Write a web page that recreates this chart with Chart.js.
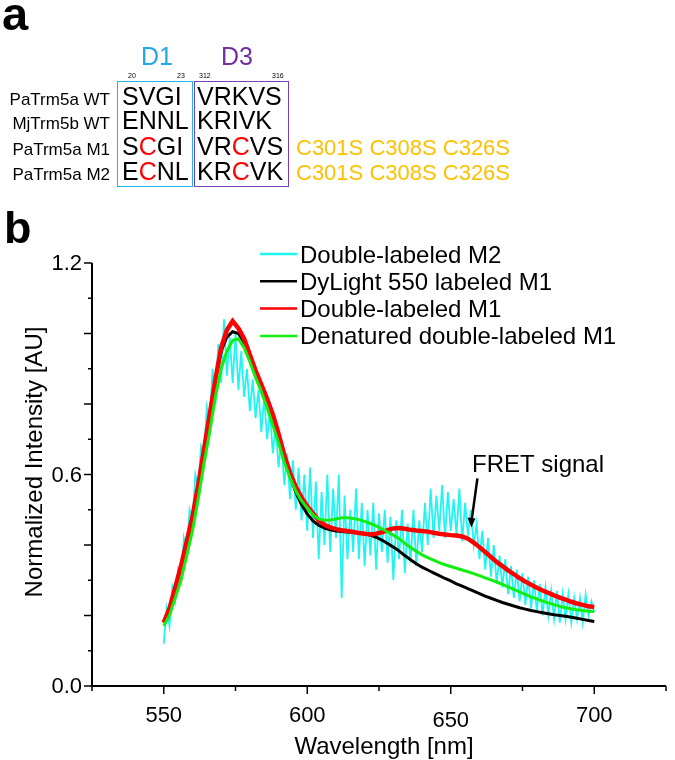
<!DOCTYPE html>
<html>
<head>
<meta charset="utf-8">
<script src="https://cdn.jsdelivr.net/npm/chart.js@4.4.1/dist/chart.umd.min.js"></script>
<style>
  html, body { margin: 0; padding: 0; background: #fff; }
  #wrap { position: relative; width: 675px; height: 760px; overflow: hidden; font-family: "Liberation Sans", Arial, sans-serif; }
  #wrap canvas { position: absolute; left: 0; top: 0; }
  .t { position: absolute; white-space: nowrap; line-height: 1; }
  .box { position: absolute; box-sizing: border-box; }
  .r { color: #ff0000; }
</style>
</head>
<body>
<div id="wrap">
  <canvas id="spectra" width="675" height="760"></canvas>

  <!-- panel a -->
  <div class="t" style="left:2px; top:-10px; font-size:47px; font-weight:bold;">a</div>
  <div class="t" style="left:141px; top:44px; font-size:25px; color:#22a8e8;">D1</div>
  <div class="t" style="left:221px; top:44px; font-size:25px; color:#7030a0;">D3</div>
  <div class="t" style="left:128px; top:72px; font-size:7px;">20</div>
  <div class="t" style="left:177px; top:72px; font-size:7px;">23</div>
  <div class="t" style="left:199px; top:72px; font-size:7px;">312</div>
  <div class="t" style="left:272px; top:72px; font-size:7px;">316</div>
  <div class="box" style="left:117px; top:81px; width:76px; height:106px; border:1.5px solid #22b4ee;"></div>
  <div class="box" style="left:194px; top:81px; width:95px; height:106px; border:1.5px solid #7e3fb5;"></div>

  <div class="t" style="right:565px; top:91px; font-size:17px;">PaTrm5a WT</div>
  <div class="t" style="right:565px; top:115px; font-size:17px;">MjTrm5b WT</div>
  <div class="t" style="right:565px; top:141px; font-size:17px;">PaTrm5a M1</div>
  <div class="t" style="right:565px; top:166px; font-size:17px;">PaTrm5a M2</div>

  <div class="t" style="left:122px; top:84px; font-size:25px;">SVGI</div>
  <div class="t" style="left:122px; top:108px; font-size:25px;">ENNL</div>
  <div class="t" style="left:122px; top:134px; font-size:25px;">S<span class="r">C</span>GI</div>
  <div class="t" style="left:122px; top:159px; font-size:25px;">E<span class="r">C</span>NL</div>
  <div class="t" style="left:197px; top:84px; font-size:25px;">VRKVS</div>
  <div class="t" style="left:197px; top:108px; font-size:25px;">KRIVK</div>
  <div class="t" style="left:197px; top:134px; font-size:25px;">VR<span class="r">C</span>VS</div>
  <div class="t" style="left:197px; top:159px; font-size:25px;">KR<span class="r">C</span>VK</div>

  <div class="t" style="left:296px; top:137px; font-size:22px; color:#ffc000;">C301S C308S C326S</div>
  <div class="t" style="left:296px; top:162px; font-size:22px; color:#ffc000;">C301S C308S C326S</div>

  <!-- panel b -->
  <div class="t" style="left:4px; top:205px; font-size:45px; font-weight:bold;">b</div>
</div>

<script>
// wavelength grids (nm)
const startNm = 550;
const stepFine = 1;   // cyan trace
const stepCoarse = 2; // smoother traces

const seriesLabels = [
  "Double-labeled M2",
  "DyLight 550 labeled M1",
  "Double-labeled M1",
  "Denatured double-labeled M1",
];
const seriesColors = ["#22f4f4", "#000000", "#ff0000", "#12ee12"];

const xTickLabels = [550, 600, 650, 700];
const yTickLabels = [0, 0.6, 1.2];

// Double-labeled M2, 550..700 nm every 1 nm (noisy)
const cyanM2 = [
  0.12, 0.22, 0.17, 0.28, 0.24, 0.33, 0.30, 0.42, 0.38, 0.50,
  0.47, 0.60, 0.56, 0.68, 0.66, 0.79, 0.74, 0.90, 0.80, 0.97,
  0.86, 1.04, 0.88, 0.99, 0.86, 1.00, 0.84, 0.95, 0.82, 0.90,
  0.78, 0.87, 0.76, 0.84, 0.72, 0.82, 0.70, 0.78, 0.66, 0.74,
  0.62, 0.70, 0.57, 0.66, 0.53, 0.64, 0.50, 0.62, 0.47, 0.60,
  0.44, 0.62, 0.42, 0.58, 0.36, 0.55, 0.40, 0.60, 0.38, 0.56,
  0.42, 0.60, 0.25, 0.54, 0.36, 0.50, 0.38, 0.56, 0.36, 0.52,
  0.34, 0.50, 0.37, 0.52, 0.33, 0.49, 0.38, 0.50, 0.35, 0.48,
  0.30, 0.47, 0.36, 0.50, 0.32, 0.46, 0.35, 0.50, 0.34, 0.47,
  0.38, 0.52, 0.40, 0.56, 0.42, 0.54, 0.44, 0.57, 0.42, 0.55,
  0.44, 0.53, 0.43, 0.56, 0.41, 0.52, 0.43, 0.50, 0.40, 0.46,
  0.36, 0.44, 0.33, 0.42, 0.31, 0.40, 0.29, 0.37, 0.28, 0.36,
  0.26, 0.34, 0.25, 0.33, 0.24, 0.32, 0.23, 0.31, 0.22, 0.30,
  0.21, 0.29, 0.20, 0.28, 0.20, 0.27, 0.19, 0.27, 0.18, 0.26,
  0.19, 0.26, 0.18, 0.25, 0.19, 0.25, 0.18, 0.26, 0.20, 0.24,
  0.21,
];

// DyLight 550 labeled M1, 550..700 nm every 2 nm
const blackM1 = [
  0.18, 0.22, 0.28, 0.34, 0.41, 0.48, 0.57, 0.67, 0.77, 0.87,
  0.95, 0.99, 1.005, 1.0, 0.975, 0.935, 0.89, 0.85, 0.81, 0.765,
  0.71, 0.65, 0.595, 0.55, 0.515, 0.488, 0.468, 0.456, 0.448, 0.443,
  0.44, 0.438, 0.437, 0.436, 0.434, 0.432, 0.428, 0.422, 0.414, 0.404,
  0.394, 0.383, 0.37, 0.358, 0.347, 0.337, 0.329, 0.321, 0.313, 0.305,
  0.298, 0.29, 0.283, 0.276, 0.269, 0.262, 0.255, 0.249, 0.243, 0.237,
  0.232, 0.227, 0.222, 0.218, 0.214, 0.211, 0.208, 0.205, 0.202, 0.2,
  0.198, 0.195, 0.192, 0.189, 0.186, 0.183,
];

// Double-labeled M1, 550..700 nm every 2 nm
const redM1 = [
  0.18, 0.22, 0.28, 0.34, 0.41, 0.48, 0.57, 0.67, 0.77, 0.87,
  0.96, 1.01, 1.035, 1.015, 0.985, 0.94, 0.895, 0.855, 0.815, 0.77,
  0.715, 0.655, 0.605, 0.565, 0.535, 0.51, 0.49, 0.47, 0.457, 0.45,
  0.445, 0.442, 0.44, 0.437, 0.434, 0.432, 0.43, 0.432, 0.436, 0.442,
  0.447, 0.448, 0.446, 0.443, 0.441, 0.44, 0.438, 0.435, 0.432, 0.43,
  0.428, 0.427, 0.424, 0.418, 0.407, 0.394, 0.38, 0.366, 0.352, 0.34,
  0.328, 0.317, 0.306, 0.296, 0.287, 0.279, 0.271, 0.264, 0.257, 0.251,
  0.245, 0.239, 0.234, 0.23, 0.226, 0.224,
];

// Denatured double-labeled M1, 550..700 nm every 2 nm
const greenM1 = [
  0.17, 0.2, 0.25, 0.3, 0.37, 0.44, 0.53, 0.63, 0.72, 0.82,
  0.9, 0.95, 0.98, 0.985, 0.96, 0.92, 0.875, 0.835, 0.79, 0.74,
  0.69, 0.635, 0.59, 0.553, 0.525, 0.505, 0.485, 0.474, 0.47, 0.471,
  0.474, 0.477, 0.477, 0.475, 0.472, 0.467, 0.461, 0.454, 0.446, 0.437,
  0.428, 0.418, 0.405, 0.393, 0.382, 0.372, 0.364, 0.357, 0.35, 0.344,
  0.339, 0.334, 0.329, 0.324, 0.319, 0.313, 0.307, 0.301, 0.295, 0.288,
  0.281, 0.274, 0.267, 0.26, 0.253, 0.247, 0.241, 0.236, 0.231, 0.226,
  0.222, 0.219, 0.216, 0.214, 0.212, 0.211,
];

function toPoints(values, step) {
  return values.map((v, i) => ({ x: startNm + i * step, y: v }));
}

const FONT = '"Liberation Sans", Arial, sans-serif';

// axes, ticks, labels, legend and the FRET arrow
const decorations = {
  id: "decorations",
  afterDraw(chart) {
    const ctx = chart.ctx;
    const xs = chart.scales.x;
    const ys = chart.scales.y;
    const area = chart.chartArea;
    ctx.save();
    ctx.strokeStyle = "#000";
    ctx.fillStyle = "#000";
    ctx.lineWidth = 2;

    // axis lines
    ctx.beginPath();
    ctx.moveTo(area.left, area.top);
    ctx.lineTo(area.left, area.bottom);
    ctx.lineTo(area.right, area.bottom);
    ctx.stroke();

    // y ticks every 0.1
    ctx.lineWidth = 1.5;
    for (let k = 0; k <= 12; k++) {
      const y = ys.getPixelForValue(k / 10);
      const len = k % 2 === 0 ? 8 : 4;
      ctx.beginPath();
      ctx.moveTo(area.left - len, y);
      ctx.lineTo(area.left, y);
      ctx.stroke();
    }
    // x ticks every 25 nm
    for (let nm = 525; nm <= 725; nm += 25) {
      const x = xs.getPixelForValue(nm);
      const len = nm % 50 === 0 ? 8 : 5;
      ctx.beginPath();
      ctx.moveTo(x, area.bottom);
      ctx.lineTo(x, area.bottom + len);
      ctx.stroke();
    }

    // tick labels
    ctx.font = "22px " + FONT;
    ctx.textAlign = "right";
    ctx.textBaseline = "middle";
    yTickLabels.forEach(v => {
      ctx.fillText(v.toFixed(1), area.left - 10, ys.getPixelForValue(v) + 1);
    });
    ctx.textAlign = "center";
    ctx.textBaseline = "alphabetic";
    xTickLabels.forEach(v => {
      const dy = v === 650 ? 5 : 0;
      ctx.fillText(String(v), xs.getPixelForValue(v), area.bottom + 36 + dy);
    });

    // axis titles
    ctx.font = "24px " + FONT;
    ctx.fillText("Wavelength [nm]", (area.left + area.right) / 2 + 5, area.bottom + 68);
    ctx.save();
    ctx.translate(42, 462);
    ctx.rotate(-Math.PI / 2);
    ctx.fillText("Normalized Intensity [AU]", 0, 0);
    ctx.restore();

    // legend
    ctx.font = "24px " + FONT;
    ctx.textAlign = "left";
    chart.data.datasets.forEach((ds, i) => {
      const y = 254 + i * 27.3;
      ctx.strokeStyle = ds.borderColor;
      ctx.lineWidth = 2.5;
      ctx.beginPath();
      ctx.moveTo(260, y);
      ctx.lineTo(297, y);
      ctx.stroke();
      ctx.fillStyle = "#000";
      ctx.fillText(ds.label, 300, y + 8.5);
    });

    // FRET signal annotation
    ctx.fillText("FRET signal", 472, 472);
    const tipX = xs.getPixelForValue(657.2);
    const tipY = ys.getPixelForValue(0.45);
    ctx.strokeStyle = "#000";
    ctx.lineWidth = 2.5;
    ctx.beginPath();
    ctx.moveTo(tipX + 6, tipY - 49);
    ctx.lineTo(tipX + 2, tipY - 20);
    ctx.lineTo(tipX, tipY - 6);
    ctx.stroke();
    ctx.beginPath();
    ctx.moveTo(tipX - 4, tipY - 10);
    ctx.lineTo(tipX + 4, tipY - 9);
    ctx.lineTo(tipX, tipY);
    ctx.closePath();
    ctx.fill();

    ctx.restore();
  },
};

new Chart(document.getElementById("spectra"), {
  type: "line",
  data: {
    datasets: [
      {
        label: seriesLabels[0],
        data: toPoints(cyanM2, stepFine),
        borderColor: seriesColors[0],
        borderWidth: 1.8,
        order: 4,
      },
      {
        label: seriesLabels[1],
        data: toPoints(blackM1, stepCoarse),
        borderColor: seriesColors[1],
        borderWidth: 3,
        order: 3,
      },
      {
        label: seriesLabels[2],
        data: toPoints(redM1, stepCoarse),
        borderColor: seriesColors[2],
        borderWidth: 4.5,
        order: 2,
      },
      {
        label: seriesLabels[3],
        data: toPoints(greenM1, stepCoarse),
        borderColor: seriesColors[3],
        borderWidth: 3,
        order: 1,
      },
    ],
  },
  options: {
    responsive: false,
    animation: false,
    devicePixelRatio: 1,
    layout: { padding: { left: 92, top: 263, right: 9, bottom: 74 } },
    elements: { point: { radius: 0 }, line: { tension: 0 } },
    scales: {
      x: { type: "linear", min: 525, max: 725, display: false },
      y: { min: 0, max: 1.2, display: false },
    },
    plugins: { legend: { display: false }, tooltip: { enabled: false } },
  },
  plugins: [decorations],
});
</script>
</body>
</html>
